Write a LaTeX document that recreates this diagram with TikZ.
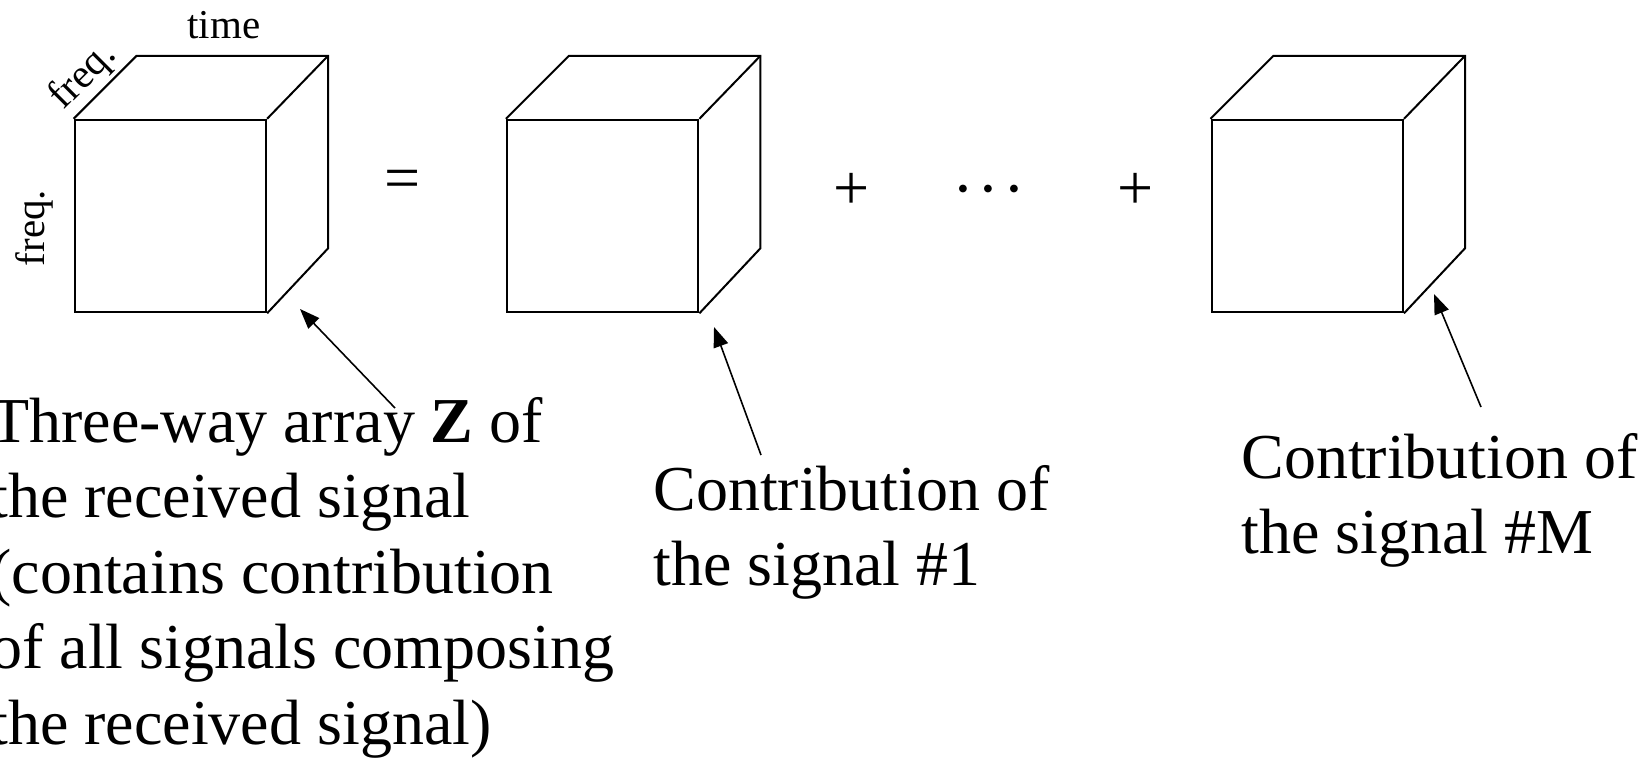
\documentclass[tikz,border=0pt]{standalone}
\usepackage{fontspec}
\setmainfont{Liberation Serif}
\usetikzlibrary{arrows.meta}
\begin{document}
\begin{tikzpicture}[x=0.5pt,y=-0.5pt,
  face/.style={draw, line width=1pt, minimum width=95.75pt, minimum height=96.25pt, inner sep=0pt, anchor=north west},
  edge/.style={line width=1pt, line join=miter},
  pointer/.style={line width=0.8pt, -{Triangle[length=10pt,width=7.5pt]}},
  big/.style={font=\fontsize{32}{37.75}\selectfont},
  small/.style={font=\fontsize{20.5}{24}\selectfont},
  lbl/.style={big, anchor=base west, inner sep=0pt},
  dotsty/.style={font=\fontsize{40}{40}\selectfont\boldmath},
]
\useasboundingbox (0,0) rectangle (1649,761);

% cubes
\foreach \n/\x in {c1/73.6, c2/505.9, c3/1210.5}{
  \node[face] (\n) at (\x,118.8) {};
  \draw[edge] (\n.north west) -- ++(63,-63) coordinate (\n btl) -- ++(191.5,0) coordinate (\n btr)
     -- ++(0,192.5) coordinate (\n bbr) -- (\n.south east);
  \draw[edge] (\n.north east) -- (\n btr);
}

% axis labels
\node[small, anchor=base] (time) at (224,38) {time};
\node[small, rotate=90, anchor=base] (fqa) at (44,228) {freq.};
\node[small, rotate=45, anchor=base] (fqb) at (90.7,83.7) {freq.};

% operators
\node[big] (eq) at (403,185) {=};
\node[big] (p1) at (852,191) {+};
\node[dotsty] (dots) at (988.6,190) {$\cdots$};
\node[big] (p2) at (1136,191) {+};

% labels
\node[lbl] (lz) at (-10,442) {\begin{tabular}[t]{@{}l@{}}Three-way array \textbf{Z} of\\ the received signal\\ (contains contribution\\ of all signals composing\\ the received signal)\end{tabular}};
\node[lbl] (l1) at (653,510) {\begin{tabular}[t]{@{}l@{}}Contribution of\\ the signal \#1\end{tabular}};
\node[lbl] (lm) at (1241,478) {\begin{tabular}[t]{@{}l@{}}Contribution of\\ the signal \#M\end{tabular}};

% pointers
\coordinate (a1t) at (395,408); \coordinate (a1h) at (300,309);
\coordinate (a2t) at (761,455); \coordinate (a2h) at (714,327);
\coordinate (a3t) at (1481,407); \coordinate (a3h) at (1434,294);
\draw[pointer] (a1t) -- (a1h);
\draw[pointer] (a2t) -- (a2h);
\draw[pointer] (a3t) -- (a3h);
\end{tikzpicture}
\end{document}
